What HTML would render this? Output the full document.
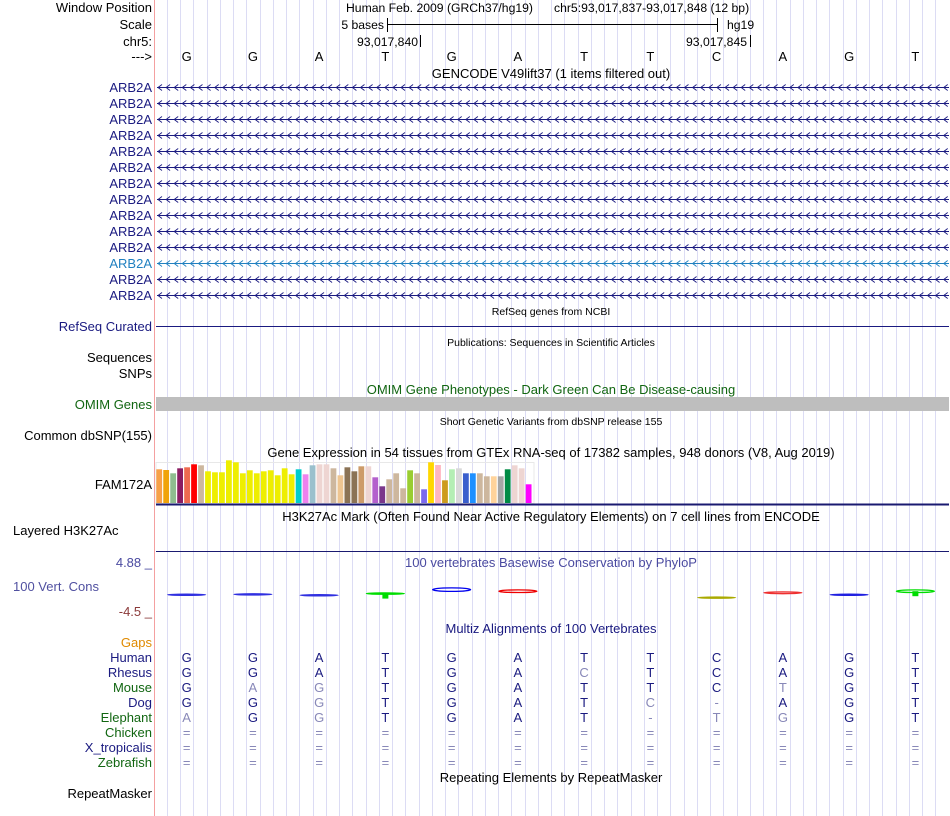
<!DOCTYPE html>
<html><head><meta charset="utf-8">
<style>
html,body{margin:0;padding:0;background:#fff;}
body{width:950px;height:816px;overflow:hidden;font-family:"Liberation Sans","DejaVu Sans",sans-serif;}
svg{display:block}
</style></head>
<body>
<svg id="gb" width="950" height="816" viewBox="0 0 950 816" xmlns="http://www.w3.org/2000/svg" font-family="Liberation Sans, DejaVu Sans, sans-serif" font-size="13">
<g id="guides"></g>
<line x1="154.5" y1="0" x2="154.5" y2="816" stroke="#f4a0a0"/>

<g text-anchor="end" fill="#000">
<text x="152" y="12">Window Position</text>
<text x="152" y="29">Scale</text>
<text x="152" y="46">chr5:</text>
<text x="152" y="61">---&gt;</text>
<text x="152" y="331" fill="#1a1a80">RefSeq Curated</text>
<text x="152" y="362">Sequences</text>
<text x="152" y="378">SNPs</text>
<text x="152" y="409" fill="#116611">OMIM Genes</text>
<text x="152" y="440">Common dbSNP(155)</text>
<text x="152" y="489">FAM172A</text>
<text x="13" y="535" text-anchor="start">Layered H3K27Ac</text>
<text x="152" y="567" fill="#4a4aa0">4.88 _</text>
<text x="13" y="591" text-anchor="start" fill="#5050a0">100 Vert. Cons</text>
<text x="152" y="616" fill="#8b3a3a">-4.5 _</text>
<text x="152" y="647" fill="#e08a00">Gaps</text>
<text x="152" y="798">RepeatMasker</text>
</g>
<g id="arbLabels" text-anchor="end"></g>
<g id="arbLines"></g>

<g fill="#000" font-size="12.2">
<text x="346" y="12">Human Feb. 2009 (GRCh37/hg19)</text>
<text x="554" y="12">chr5:93,017,837-93,017,848 (12 bp)</text>
<text x="384" y="29" text-anchor="end">5 bases</text>
<line x1="387.5" y1="18" x2="387.5" y2="32" stroke="#000"/>
<line x1="387" y1="24.5" x2="718" y2="24.5" stroke="#000"/>
<line x1="717.5" y1="18" x2="717.5" y2="32" stroke="#000"/>
<text x="727" y="29">hg19</text>
<text x="418" y="46" text-anchor="end">93,017,840</text>
<line x1="420.5" y1="35" x2="420.5" y2="47" stroke="#000"/>
<text x="747" y="46" text-anchor="end">93,017,845</text>
<line x1="750.5" y1="35" x2="750.5" y2="47" stroke="#000"/>
</g>
<g id="bases"></g>

<g text-anchor="middle">
<text x="551" y="78">GENCODE V49lift37 (1 items filtered out)</text>
<text x="551" y="315" font-size="10.5">RefSeq genes from NCBI</text>
<text x="551" y="346" font-size="10.5">Publications: Sequences in Scientific Articles</text>
<text x="551" y="394" fill="#116611">OMIM Gene Phenotypes - Dark Green Can Be Disease-causing</text>
<text x="551" y="425" font-size="10.5">Short Genetic Variants from dbSNP release 155</text>
<text x="551" y="457">Gene Expression in 54 tissues from GTEx RNA-seq of 17382 samples, 948 donors (V8, Aug 2019)</text>
<text x="551" y="521">H3K27Ac Mark (Often Found Near Active Regulatory Elements) on 7 cell lines from ENCODE</text>
<text x="551" y="567" fill="#4a4aa0">100 vertebrates Basewise Conservation by PhyloP</text>
<text x="551" y="633" fill="#1a1a80">Multiz Alignments of 100 Vertebrates</text>
<text x="551" y="782">Repeating Elements by RepeatMasker</text>
</g>

<line x1="156" y1="326.5" x2="949" y2="326.5" stroke="#1a1a80"/>
<rect x="156" y="397" width="793" height="14" fill="#bebebe"/>
<rect x="156" y="462.5" width="378" height="41" fill="none" stroke="#e8e8e8"/>
<g id="gtex"></g>
<line x1="156" y1="504.5" x2="949" y2="504.5" stroke="#1a1a70" stroke-width="2"/>
<line x1="156" y1="551.5" x2="949" y2="551.5" stroke="#1a1a70"/>
<g id="cons"></g>
<g id="multiz"></g>
</svg>
<script>
const bases = ["G","G","A","T","G","A","T","T","C","A","G","T"];
const gtexHeights = [33.7,33,29.7,34.7,35.7,38.7,37.7,31.7,30.7,30.7,42.7,40.7,29.7,32.7,29.7,31.7,32.7,27.7,34.7,28.7,33.7,28.7,37.7,38.7,38.7,34.7,27.7,35.7,31.7,36.7,36.7,25.7,16.7,23.7,29.7,14.7,32.7,29.7,13.7,40.7,38,22.7,33.7,34.7,29.7,29.7,29.7,26.7,26.7,26.7,33.7,37.7,34.7,18.7];
const gtexColors = ["#f7a048","#f0a30a","#8fbc8f","#8b1c62","#ee6a50","#ff0000","#cdb79e","#eeee00","#eeee00","#eeee00","#eeee00","#eeee00","#eeee00","#eeee00","#eeee00","#eeee00","#eeee00","#eeee00","#eeee00","#eeee00","#00cdcd","#ee82ee","#9ac0cd","#eed5d2","#eed5d2","#cdb79e","#eec591","#8b7355","#8b7355","#cd9b69","#eed5d2","#b460cd","#7a378b","#cdb79e","#cdb79e","#cdb79e","#9acd32","#cdb79e","#7b68ee","#ffd700","#ffb6c1","#cd9b1d","#b4eeb4","#d9d9d9","#3a5fcd","#1e90ff","#cdb79e","#cdb79e","#ffd39b","#a6a6a6","#008b45","#eed5d2","#eed5d2","#ff00ff"];
const species = ["Human","Rhesus","Mouse","Dog","Elephant","Chicken","X_tropicalis","Zebrafish"];
const speciesSeq = ["GGATGATTCAGT","GGATGACTCAGT","GAGTGATTCTGT","GGGTGATC-AGT","AGGTGAT-TGGT","============","============","============"];
const speciesColors = ["#1a1a80","#1a1a80","#116611","#1a1a80","#116611","#116611","#1a1a80","#116611"];
const consScores = [0.3,0.4,0.2,0.6,1.6,1.2,0,0,-0.4,0.8,0.3,1.2];
const consColors = ["#3030e0","#3030e0","#3030e0","#00dd00","#0000ee","#ee0000",null,null,"#aaaa00","#ee3030","#2020e0","#00dd00"];

const NS="http://www.w3.org/2000/svg";
function mk(tag,attrs,parent){const e=document.createElementNS(NS,tag);for(const k in attrs)e.setAttribute(k,attrs[k]);parent.appendChild(e);return e;}
const x0=153.5, bw=66.25;
function xCenter(i){return x0+bw*(i+0.5);}
const G=document.getElementById('guides');
for(let k=1;k<60;k++){const x=Math.round(x0+13.25*k)+0.5;if(x>949)break;
 const l=mk('line',{x1:x,y1:0,x2:x,y2:816,stroke:'#dcdcf4'},G);
 
 }
const B=document.getElementById('bases');
bases.forEach((b,i)=>{const t=mk('text',{x:xCenter(i),y:61,'text-anchor':'middle'},B);t.textContent=b;
 
 });
const AL=document.getElementById('arbLabels'), AR=document.getElementById('arbLines');
for(let r=0;r<14;r++){const y=87+16*r;const col=r===11?'#2080c0':'#1a1a80';
 const t=mk('text',{x:152,y:y+5,fill:col},AL);t.textContent='ARB2A';
 
 
 const g=mk('g',{stroke:col,fill:'none'},AR);
 
 
 mk('line',{x1:157,y1:y+0.5,x2:949,y2:y+0.5},g);
 let d='';for(let x=158;x<948;x+=8.1){d+=`M${(x+4).toFixed(1)} ${y-2.5}L${x.toFixed(1)} ${y+0.5}L${(x+4).toFixed(1)} ${y+3.5}`;}
 mk('path',{d:d,'stroke-width':0.9},g);}
const GT=document.getElementById('gtex');const base=503;
gtexHeights.forEach((h,i)=>{const r=mk('rect',{x:(156.3+i*6.97).toFixed(2),y:base-h,width:5.8,height:h,fill:gtexColors[i]},GT);
 
 });
const C=document.getElementById('cons');const mid=596;
consScores.forEach((s,i)=>{if(!consColors[i])return;const cx=xCenter(i);const y=mid-s*4;
 const g=mk('g',{},C);
 
 
 const hh=Math.max(1.2,Math.abs(s)*2.2);
 mk('ellipse',{cx:cx,cy:y,rx:19,ry:hh/2,fill:'none',stroke:consColors[i],'stroke-width':1.3},g);
 if(i===3||i===11)mk('rect',{x:cx-3,y:y,width:6,height:5,fill:consColors[i]},g);});
const M=document.getElementById('multiz');
species.forEach((sp,r)=>{const y=662+15*r;
 const t=mk('text',{x:152,y:y,'text-anchor':'end',fill:speciesColors[r]},M);t.textContent=sp;
 
 
 for(let i=0;i<12;i++){const c=speciesSeq[r][i];const match=r===0||c===bases[i];
  const l=mk('text',{x:xCenter(i),y:y,'text-anchor':'middle',fill:match?'#1a1a80':'#8888b8'},M);l.textContent=c;
  
  }});
</script>
</body></html>
